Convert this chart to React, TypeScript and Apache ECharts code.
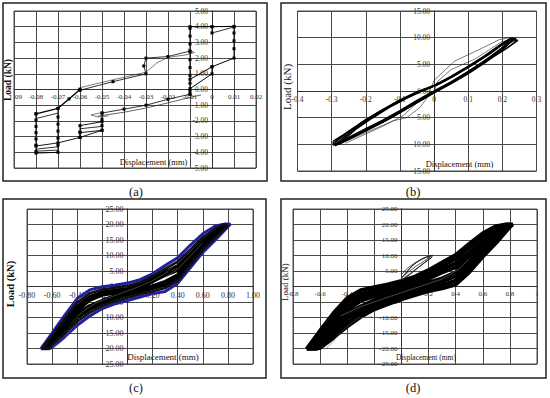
import React, { useEffect, useRef } from "react";
import * as echarts from "echarts";

const FONT = "Liberation Serif";

// ---------- tick labels ----------
const aXLabels = ["09", "-0.08", "-0.07", "-0.06", "-0.05", "-0.04", "-0.03", "-0.02", "-0.01", "0", "0.01", "0.02"];
const aYLabels = ["-5.00", "-4.00", "-3.00", "-2.00", "-1.00", "0.00", "1.00", "2.00", "3.00", "4.00", "5.00"];
const bXLabels = ["-0.4", "-0.3", "-0.2", "-0.1", "0", "0.1", "0.2", "0.3"];
const bYLabels = ["-15.00", "-10.00", "-5.00", "0.00", "5.00", "10.00", "15.00"];
const cXLabels = ["-0.80", "-0.60", "-0.40", "-0.20", "0.00", "0.20", "0.40", "0.60", "0.80", "1.00"];
const cYLabels = ["-25.00", "-20.00", "-15.00", "-10.00", "-5.00", "0.00", "5.00", "10.00", "15.00", "20.00", "25.00"];
const dXLabels = ["-0.8", "-0.6", "-0.4", "-0.2", "0", "0.2", "0.4", "0.6", "0.8", "1"];
const dYLabels = ["-25.00", "-20.00", "-15.00", "-10.00", "-5.00", "0.00", "5.00", "10.00", "15.00", "20.00", "25.00"];

// ---------- panel (a) ----------
const aRightOuter = [[-0.01, -0.1], [-0.01, 0.4], [-0.01, 0.9], [-0.01, 1.4], [-0.01, 1.9], [-0.01, 2.4], [-0.01, 2.9], [-0.01, 3.4], [-0.01, 3.9], [-0.01, 4.0], [0.0, 4.0], [0.01, 4.02], [0.01, 3.6], [0.01, 3.1], [0.01, 2.6], [0.01, 2.0], [0.0, 1.45], [-0.01, 0.65]];
const aRightInner = [[0.0, 4.0], [0.0, 3.6], [0.01, 3.98]];
const aRightReturn = [[0.0, 1.45], [0.0, 1.0], [-0.01, 0.05], [-0.01, -0.3]];
const aUpperLeft1 = [[-0.06, -0.05], [-0.045, 0.5], [-0.03, 1.0], [-0.031, 1.5], [-0.03, 2.0], [-0.02, 2.1], [-0.01, 2.45]];
const aUpperLeft2 = [[-0.061, 0.08], [-0.045, 0.62], [-0.03, 1.1], [-0.025, 1.7], [-0.02, 2.05], [-0.012, 2.2], [-0.008, 2.35], [-0.011, 2.6]];
const aLowerDiag1 = [[-0.08, -1.55], [-0.07, -1.2], [-0.065, -0.6], [-0.06, 0.0]];
const aLowerDiag2 = [[-0.08, -1.85], [-0.07, -1.5]];
const aMidDiag1 = [[-0.05, -1.5], [-0.04, -1.25], [-0.03, -1.0], [-0.02, -0.62], [-0.01, -0.3]];
const aMidDiag2 = [[-0.052, -1.7], [-0.04, -1.45], [-0.03, -1.18], [-0.02, -0.85], [-0.01, -0.5], [-0.005, -0.35]];
const aLeftBox = [[-0.08, -1.55], [-0.08, -1.95], [-0.08, -2.35], [-0.08, -2.75], [-0.08, -3.15], [-0.08, -3.55], [-0.08, -3.95], [-0.08, -4.05], [-0.07, -4.0], [-0.07, -3.55], [-0.07, -3.1], [-0.07, -2.65], [-0.07, -2.2], [-0.07, -1.75], [-0.07, -1.2]];
const aBottom1 = [[-0.08, -3.6], [-0.07, -3.4], [-0.06, -3.05], [-0.05, -2.6]];
const aBottom2 = [[-0.08, -3.8], [-0.07, -3.65]];
const aBottom3 = [[-0.08, -3.93], [-0.07, -3.86]];
const aMidLoop1 = [[-0.05, -1.5], [-0.05, -1.9], [-0.05, -2.3], [-0.05, -2.6], [-0.06, -2.75], [-0.06, -3.05]];
const aMidLoop2 = [[-0.06, -3.05], [-0.06, -2.7], [-0.06, -2.3], [-0.05, -2.05]];
const aMidLoop3 = [[-0.06, -2.5], [-0.05, -2.35]];
const aWiggle = [[-0.051, -1.5], [-0.055, -1.62], [-0.052, -1.75], [-0.047, -1.68]];

// ---------- panel (b) ----------
const bLoop1 = [[-0.29, -9.6], [-0.25, -7.6], [-0.2, -5.4], [-0.15, -3.5], [-0.1, -1.7], [-0.05, -0.2], [0, 1.0], [0.05, 2.7], [0.1, 4.6], [0.15, 6.6], [0.2, 8.9], [0.23, 10.0], [0.23, 9.6], [0.2, 7.7], [0.15, 5.4], [0.1, 3.3], [0.05, 1.4], [0, -0.3], [-0.05, -2.1], [-0.1, -4.0], [-0.15, -5.8], [-0.2, -7.4], [-0.25, -9.0], [-0.29, -10.2], [-0.29, -9.6]];
const bLoop2 = [[-0.285, -9.9], [-0.24, -7.4], [-0.19, -5.3], [-0.14, -3.3], [-0.09, -1.6], [-0.04, -0.1], [0.01, 1.2], [0.06, 2.9], [0.11, 4.9], [0.16, 6.9], [0.21, 9.3], [0.24, 9.9], [0.22, 9.0], [0.18, 7.1], [0.13, 4.9], [0.08, 2.8], [0.03, 0.9], [-0.02, -1.0], [-0.07, -2.9], [-0.12, -4.8], [-0.17, -6.4], [-0.22, -8.0], [-0.27, -9.6], [-0.285, -9.9]];
const bLoop3 = [[-0.28, -10.0], [-0.23, -7.2], [-0.18, -5.0], [-0.13, -3.0], [-0.08, -1.3], [-0.03, 0.2], [0.02, 1.5], [0.07, 3.3], [0.12, 5.2], [0.17, 7.3], [0.22, 9.7], [0.245, 9.5], [0.21, 7.9], [0.16, 5.9], [0.11, 3.8], [0.06, 1.9], [0.01, 0.1], [-0.04, -1.8], [-0.09, -3.6], [-0.14, -5.5], [-0.19, -7.1], [-0.24, -8.7], [-0.28, -10.0]];
const bLoop4 = [[-0.295, -9.4], [-0.26, -8.0], [-0.21, -5.9], [-0.16, -3.9], [-0.11, -2.1], [-0.06, -0.5], [-0.01, 0.7], [0.04, 2.3], [0.09, 4.2], [0.14, 6.2], [0.19, 8.4], [0.225, 9.8], [0.2, 8.1], [0.15, 5.7], [0.1, 3.6], [0.05, 1.7], [0.0, 0.0], [-0.05, -1.8], [-0.1, -3.7], [-0.15, -5.5], [-0.2, -7.1], [-0.25, -8.7], [-0.295, -10.1], [-0.295, -9.4]];
const bThin1 = [[-0.29, -10.3], [-0.2, -7.8], [-0.12, -5.6], [-0.08, -5.0], [-0.04, -3.0], [-0.02, -1.2], [0.0, 2.0], [0.03, 3.8], [0.06, 5.6], [0.1, 6.8], [0.13, 7.7], [0.19, 9.6], [0.22, 10.0]];
const bThin2 = [[-0.26, -9.8], [-0.15, -6.6], [-0.09, -4.6], [-0.05, -2.2], [0.0, -0.2], [0.01, 1.8], [0.05, 4.0], [0.12, 6.0], [0.2, 9.3], [0.24, 9.4], [0.2, 8.6]];

// ---------- panel (c) ----------
const cLoop1 = [[-0.69, -20.1], [-0.6, -15.0], [-0.5, -9.3], [-0.4, -3.9], [-0.3, -1.1], [-0.2, -0.1], [-0.1, 0.4], [0, 1.1], [0.1, 2.2], [0.2, 4.1], [0.3, 6.8], [0.4, 9.3], [0.5, 13.3], [0.6, 17.0], [0.7, 19.5], [0.78, 20.2], [0.82, 20.1], [0.8, 19.3], [0.7, 15.0], [0.6, 11.0], [0.5, 6.0], [0.4, 1.0], [0.3, -1.6], [0.2, -2.3], [0.1, -3.4], [0, -4.5], [-0.1, -5.6], [-0.2, -7.1], [-0.3, -9.5], [-0.4, -12.5], [-0.5, -16.3], [-0.6, -19.6], [-0.63, -20.1], [-0.69, -20.1]];
const cLoop2 = [[-0.68, -20.0], [-0.6, -15.8], [-0.5, -10.4], [-0.4, -5.2], [-0.3, -2.2], [-0.2, -1.0], [-0.1, -0.4], [0, 0.2], [0.1, 1.3], [0.2, 3.3], [0.3, 5.7], [0.4, 8.0], [0.5, 11.9], [0.6, 15.8], [0.7, 18.7], [0.77, 20.0], [0.8, 19.8], [0.7, 15.7], [0.6, 11.8], [0.5, 6.8], [0.4, 1.9], [0.3, -0.5], [0.2, -1.5], [0.1, -2.5], [0, -3.6], [-0.1, -4.8], [-0.2, -6.2], [-0.3, -8.4], [-0.4, -11.3], [-0.5, -15.2], [-0.6, -18.8], [-0.62, -20.0], [-0.68, -20.0]];
const cLoop3 = [[-0.67, -19.8], [-0.6, -16.5], [-0.5, -11.5], [-0.4, -6.5], [-0.3, -3.3], [-0.2, -1.8], [-0.1, -1.3], [0, -0.7], [0.1, 0.5], [0.2, 2.4], [0.3, 4.7], [0.4, 6.6], [0.5, 10.5], [0.6, 14.6], [0.7, 17.8], [0.76, 19.7], [0.79, 19.5], [0.7, 16.3], [0.6, 12.6], [0.5, 7.7], [0.4, 2.8], [0.3, 0.5], [0.2, -0.6], [0.1, -1.7], [0, -2.7], [-0.1, -3.9], [-0.2, -5.4], [-0.3, -7.3], [-0.4, -10.0], [-0.5, -14.1], [-0.6, -18.1], [-0.62, -19.8], [-0.67, -19.8]];
const cLoop4 = [[-0.66, -19.5], [-0.6, -17.3], [-0.5, -12.6], [-0.4, -7.7], [-0.3, -4.4], [-0.2, -2.7], [-0.1, -2.1], [0, -1.6], [0.1, -0.4], [0.2, 1.6], [0.3, 3.6], [0.4, 5.3], [0.5, 9.1], [0.6, 13.4], [0.7, 17.0], [0.75, 19.2], [0.77, 19.0], [0.7, 17.0], [0.6, 13.4], [0.5, 8.5], [0.4, 3.7], [0.3, 1.6], [0.2, 0.2], [0.1, -0.8], [0, -1.8], [-0.1, -3.1], [-0.2, -4.5], [-0.3, -6.2], [-0.4, -8.7], [-0.5, -13.0], [-0.6, -17.3], [-0.63, -19.4], [-0.66, -19.5]];
const cThin1 = [[-0.45, -12.0], [-0.35, -7.8], [-0.25, -5.3], [-0.1, -2.9], [0.05, -0.7], [0.2, 1.9], [0.3, 4.2], [0.38, 7.2], [0.45, 10.5]];
const cThin2 = [[-0.6, -19.8], [-0.55, -18.5], [-0.5, -16.8], [-0.45, -14.0], [-0.38, -10.8], [-0.3, -8.0]];
const cThin3 = [[0.3, 3.0], [0.4, 5.5], [0.5, 9.8], [0.6, 14.2]];

// ---------- panel (d) ----------
const dLoop1 = [[-0.7, -20.1], [-0.6, -14.2], [-0.5, -8.5], [-0.4, -3.7], [-0.3, -1.2], [-0.2, -0.2], [-0.1, 0.7], [0, 1.8], [0.1, 3.2], [0.2, 5.3], [0.3, 7.8], [0.4, 10.2], [0.5, 13.8], [0.6, 17.2], [0.7, 19.5], [0.78, 20.1], [0.82, 20.0], [0.8, 19.2], [0.7, 14.1], [0.6, 9.6], [0.5, 4.6], [0.4, 0.6], [0.3, -0.6], [0.2, -1.5], [0.1, -2.8], [0, -4.2], [-0.1, -5.7], [-0.2, -7.4], [-0.3, -9.8], [-0.4, -12.9], [-0.5, -16.5], [-0.6, -19.8], [-0.63, -20.1], [-0.7, -20.1]];
const dLoop2 = [[-0.69, -20.0], [-0.6, -15.1], [-0.5, -9.8], [-0.4, -5.0], [-0.3, -2.4], [-0.2, -1.2], [-0.1, -0.3], [0, 0.8], [0.1, 2.2], [0.2, 4.4], [0.3, 6.7], [0.4, 8.9], [0.5, 12.4], [0.6, 16.0], [0.7, 18.6], [0.77, 19.9], [0.8, 19.7], [0.7, 15.0], [0.6, 10.9], [0.5, 6.0], [0.4, 1.9], [0.3, 0.5], [0.2, -0.6], [0.1, -1.8], [0, -3.2], [-0.1, -4.7], [-0.2, -6.4], [-0.3, -8.6], [-0.4, -11.6], [-0.5, -15.3], [-0.6, -18.9], [-0.63, -20.0], [-0.69, -20.0]];
const dLoop3 = [[-0.68, -19.8], [-0.6, -16.1], [-0.5, -11.1], [-0.4, -6.4], [-0.3, -3.5], [-0.2, -2.2], [-0.1, -1.2], [0, -0.2], [0.1, 1.3], [0.2, 3.4], [0.3, 5.6], [0.4, 7.5], [0.5, 10.9], [0.6, 14.7], [0.7, 17.7], [0.76, 19.6], [0.79, 19.4], [0.7, 15.9], [0.6, 12.1], [0.5, 7.5], [0.4, 3.3], [0.3, 1.6], [0.2, 0.4], [0.1, -0.9], [0, -2.2], [-0.1, -3.8], [-0.2, -5.4], [-0.3, -7.5], [-0.4, -10.2], [-0.5, -14.0], [-0.6, -17.9], [-0.63, -19.8], [-0.68, -19.8]];
const dLoop4 = [[-0.67, -19.5], [-0.6, -17.0], [-0.5, -12.3], [-0.4, -7.7], [-0.3, -4.7], [-0.2, -3.2], [-0.1, -2.2], [0, -1.2], [0.1, 0.3], [0.2, 2.5], [0.3, 4.5], [0.4, 6.2], [0.5, 9.5], [0.6, 13.4], [0.7, 16.8], [0.75, 19.0], [0.78, 18.8], [0.7, 16.8], [0.6, 13.4], [0.5, 8.9], [0.4, 4.6], [0.3, 2.7], [0.2, 1.3], [0.1, 0.1], [0, -1.2], [-0.1, -2.8], [-0.2, -4.4], [-0.3, -6.3], [-0.4, -8.9], [-0.5, -12.7], [-0.6, -17.0], [-0.63, -19.3], [-0.67, -19.5]];
const dFinger1 = [[0.0, 2.6], [0.03, 4.2], [0.07, 6.2], [0.11, 7.8], [0.16, 9.0], [0.2, 9.8], [0.23, 10.1], [0.22, 9.2], [0.18, 8.0], [0.13, 6.3], [0.08, 4.5], [0.04, 3.2], [0.01, 2.2]];
const dFinger2 = [[0.01, 3.2], [0.05, 5.4], [0.09, 7.2], [0.14, 8.6], [0.19, 9.6], [0.22, 9.9], [0.2, 8.8], [0.15, 7.0], [0.1, 5.4], [0.06, 4.0], [0.02, 2.8]];
const dFinger3 = [[0.0, 3.8], [0.04, 5.8], [0.1, 7.6], [0.17, 9.4], [0.21, 9.5], [0.17, 8.3], [0.11, 6.6], [0.05, 4.6], [0.0, 3.0]];
const dThin1 = [[-0.56, -20.2], [-0.5, -17.5], [-0.45, -15.0], [-0.4, -12.8], [-0.32, -10.2], [-0.22, -9.8]];
const dThin2 = [[-0.45, -9.5], [-0.3, -6.5], [-0.15, -4.2], [0.0, -2.0], [0.15, 0.2], [0.3, 2.4], [0.42, 5.5], [0.5, 9.0]];

// ---------- helpers ----------
function makeX(gi: number, min: number, max: number, interval: number, labels: string[], fontSize: number, margin: number, offset: number, rich?: any) {
  return {
    type: "value", gridIndex: gi, min, max, interval, position: "bottom", offset,
    axisLine: { onZero: false, lineStyle: { color: "#333", width: 1 } },
    axisTick: { show: false },
    splitLine: { show: true, lineStyle: { color: "#4a4a4a", width: 1 } },
    axisLabel: {
      fontFamily: FONT, fontSize, color: "#333", margin, hideOverlap: false,
      showMinLabel: true, showMaxLabel: true,
      formatter: (v: number) => {
        const i = Math.round((v - min) / interval);
        const t = labels[i] ?? "";
        return rich && i === 0 ? "{p|" + t + "}" : t;
      },
      rich,
    },
  };
}
function makeY(gi: number, min: number, max: number, interval: number, labels: string[], fontSize: number, margin: number, offset: number) {
  return {
    type: "value", gridIndex: gi, min, max, interval, position: "left", offset,
    axisLine: { onZero: false, lineStyle: { color: "#333", width: 1 } },
    axisTick: { show: false },
    splitLine: { show: true, lineStyle: { color: "#4a4a4a", width: 1 } },
    axisLabel: {
      fontFamily: FONT, fontSize, color: "#333", margin, hideOverlap: false,
      showMinLabel: true, showMaxLabel: true,
      formatter: (v: number) => labels[Math.round((v - min) / interval)] ?? "",
    },
  };
}
function ln(gi: number, data: number[][], color: string, width: number, extra: any = {}) {
  return {
    type: "line", xAxisIndex: gi, yAxisIndex: gi, data, showSymbol: false, symbol: "none",
    lineStyle: { color, width }, silent: true, z: 3, ...extra,
  };
}
const mark = { symbol: "rect", symbolSize: 3, showSymbol: true, itemStyle: { color: "#000" } };

function txt(x: number, y: number, text: string, fontSize: number, extra: any = {}, rotation = 0) {
  return {
    type: "text", x, y, z: 100, silent: true, rotation,
    style: { text, fontFamily: FONT, fontSize, fill: "#111", align: "center", verticalAlign: "middle", ...extra },
  };
}
function box(x: number, y: number, w: number, h: number) {
  return { type: "rect", z: 100, silent: true, shape: { x, y, width: w, height: h }, style: { fill: "none", stroke: "#222", lineWidth: 1.5 } };
}

// grid geometry (pixels)
const GA = { left: 14, top: 11, width: 242, height: 157 };
const GB = { left: 297.5, top: 11, width: 239, height: 160 };
const GC = { left: 27, top: 209, width: 226, height: 155 };
const GD = { left: 293, top: 209, width: 244, height: 155 };

export default function App() {
  const ref = useRef<HTMLDivElement>(null);
  useEffect(() => {
    if (!ref.current) return;
    const chart = echarts.init(ref.current, undefined, { renderer: "svg" });
    const gridStyle = { show: true, borderColor: "#4a4a4a", borderWidth: 1, backgroundColor: "#fff" };
    const option: any = {
      animation: false,
      backgroundColor: "#fff",
      grid: [
        { ...GA, ...gridStyle },
        { ...GB, ...gridStyle },
        { ...GC, ...gridStyle },
        { ...GD, ...gridStyle },
      ],
      xAxis: [
        makeX(0, -0.09, 0.02, 0.01, aXLabels, 7, 4, -(GA.height / 2), { p: { padding: [0, 0, 0, 9], fontFamily: FONT, fontSize: 7, color: "#333" } }),
        makeX(1, -0.4, 0.3, 0.1, bXLabels, 7.5, 4, -(GB.height / 2)),
        makeX(2, -0.8, 1.0, 0.2, cXLabels, 8, 5, -(GC.height / 2)),
        makeX(3, -0.8, 1.0, 0.2, dXLabels, 7, 4, -(GD.height / 2)),
      ],
      yAxis: [
        makeY(0, -5, 5, 1, aYLabels, 7.5, 4, -(GA.width * 9 / 11)),
        makeY(1, -15, 15, 5, bYLabels, 7.5, 4, -(GB.width * 4 / 7)),
        makeY(2, -25, 25, 5, cYLabels, 8, 4, -(GC.width * 4 / 9)),
        makeY(3, -25, 25, 5, dYLabels, 7, 4, -(GD.width * 4 / 9)),
      ],
      series: [
        // (a)
        ln(0, aRightOuter, "#000", 1, mark),
        ln(0, aRightInner, "#000", 0.8, mark),
        ln(0, aRightReturn, "#000", 1, mark),
        ln(0, aUpperLeft1, "#000", 0.8, mark),
        ln(0, aUpperLeft2, "#222", 0.6),
        ln(0, aLowerDiag1, "#000", 1.4, mark),
        ln(0, aLowerDiag2, "#000", 0.8),
        ln(0, aMidDiag1, "#000", 0.8, mark),
        ln(0, aMidDiag2, "#222", 0.7),
        ln(0, aLeftBox, "#000", 1, mark),
        ln(0, aBottom1, "#000", 0.9, mark),
        ln(0, aBottom2, "#000", 0.8),
        ln(0, aBottom3, "#000", 0.8),
        ln(0, aMidLoop1, "#000", 0.9, mark),
        ln(0, aMidLoop2, "#000", 0.9, mark),
        ln(0, aMidLoop3, "#000", 0.8),
        ln(0, aWiggle, "#222", 0.6),
        // (b)
        ln(1, bThin1, "#222", 0.6),
        ln(1, bThin2, "#222", 0.6),
        ln(1, bLoop1, "#000", 1.8),
        ln(1, bLoop2, "#000", 1.7),
        ln(1, bLoop3, "#000", 1.7),
        ln(1, bLoop4, "#000", 1.7),
        // (c)
        ln(2, cLoop1, "#1f1fa0", 3.0),
        ln(2, cLoop3, "#000", 3.6),
        ln(2, cLoop4, "#000", 3.4),
        ln(2, cThin1, "#666", 0.6),
        ln(2, cThin2, "#666", 0.6),
        ln(2, cThin3, "#666", 0.6),
        ln(2, cLoop2, "#111", 2.6),
        // (d)
        ln(3, dLoop1, "#000", 3.8),
        ln(3, dLoop2, "#000", 3.8),
        ln(3, dLoop3, "#000", 3.8),
        ln(3, dLoop4, "#000", 3.6),
        ln(3, dThin1, "#555", 0.6),
        ln(3, dThin2, "#777", 0.6),
        ln(3, dFinger1, "#222", 1),
        ln(3, dFinger2, "#222", 0.9),
        ln(3, dFinger3, "#333", 0.8),
      ],
      graphic: [
        box(3, 3, 264, 178),
        box(281, 3, 265, 178),
        box(3, 199, 263, 179),
        box(281, 199, 265, 179),
        txt(7.5, 80, "Load (kN)", 9.5, { fontWeight: "bold" }, Math.PI / 2),
        txt(286.5, 87, "Load (kN)", 11, {}, Math.PI / 2),
        txt(10, 284, "Load (kN)", 10.5, { fontWeight: "bold" }, Math.PI / 2),
        txt(284.5, 282, "Load (kN)", 9, {}, Math.PI / 2),
        txt(153.5, 162, "Displacement (mm)", 8.5),
        txt(459.5, 164, "Displacement (mm)", 8.5),
        txt(163, 357, "Displacement (mm)", 9),
        txt(426, 357, "Displacement (mm)", 7.5),
        txt(136, 192, "(a)", 12.5),
        txt(413, 192, "(b)", 12.5),
        txt(136, 388, "(c)", 12.5),
        txt(413, 388, "(d)", 12.5),
      ],
    };
    chart.setOption(option);
    return () => chart.dispose();
  }, []);
  return (
    <div
      ref={ref}
      style={{ position: "fixed", left: 0, top: 0, width: 550, height: 398, background: "#fff" }}
    />
  );
}
